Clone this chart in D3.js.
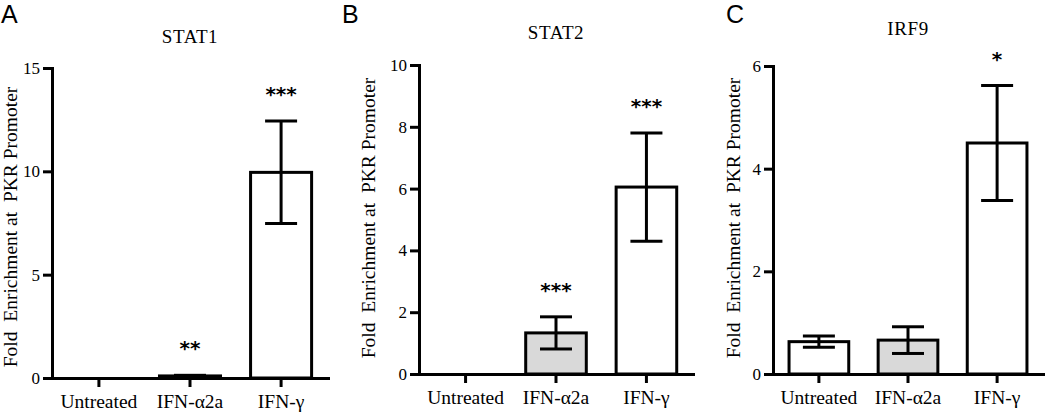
<!DOCTYPE html>
<html><head><meta charset="utf-8">
<script src="https://cdn.jsdelivr.net/npm/d3@7"></script>
<style>body{margin:0;background:#fff} svg{display:block}</style>
</head><body><svg id="c" width="1050" height="412"></svg>
<script>
// ---- data ----
const categories = ["Untreated", "IFN-\u03B12a", "IFN-\u03B3"];
const panelLetters = ["A", "B", "C"];
const panelTitles = ["STAT1", "STAT2", "IRF9"];
const stat1Mean = [0, 0.1, 9.95];
const stat1Err  = [0, 0.03, 2.48];
const stat1Sig  = ["", "**", "***"];
const stat2Mean = [0, 1.33, 6.05];
const stat2Err  = [0, 0.52, 1.75];
const stat2Sig  = ["", "***", "***"];
const irf9Mean  = [0.63, 0.66, 4.5];
const irf9Err   = [0.11, 0.26, 1.12];
const irf9Sig   = ["", "", "*"];
const stat1Ticks = [0, 5, 10, 15];
const stat2Ticks = [0, 2, 4, 6, 8, 10];
const irf9Ticks  = [0, 2, 4, 6];
const yLabel = "Fold  Enrichment at  PKR Promoter";

// ---- layout ----
const panels = [
  {mean: stat1Mean, err: stat1Err, sig: stat1Sig, ticks: stat1Ticks, max: 15,
   x0: 52, x1: 328, y0: 378, yT: 68, titleY: 43, letterX: 1, labX: 17, labY: 227},
  {mean: stat2Mean, err: stat2Err, sig: stat2Sig, ticks: stat2Ticks, max: 10,
   x0: 419, x1: 693, y0: 374, yT: 65, titleY: 39, letterX: 342, labX: 375, labY: 218},
  {mean: irf9Mean, err: irf9Err, sig: irf9Sig, ticks: irf9Ticks, max: 6,
   x0: 773, x1: 1043, y0: 374, yT: 66, titleY: 35, letterX: 726, labX: 740, labY: 218}
];
const fills = ["#ffffff", "#d9d9d9", "#ffffff"];
const serif = "'Liberation Serif','Times New Roman',serif";

const svg = d3.select("#c");
svg.append("rect").attr("width", 1050).attr("height", 412).attr("fill", "#fff");

panels.forEach((p, i) => {
  const g = svg.append("g");
  const x = d3.scaleBand().domain(categories).range([p.x0, p.x1])
    .paddingInner(0.33).paddingOuter(0.18);
  const y = d3.scaleLinear().domain([0, p.max]).range([p.y0, p.yT]);

  // bars
  g.selectAll("rect.bar").data(categories).join("rect")
    .attr("class", "bar")
    .attr("x", d => x(d)).attr("width", x.bandwidth())
    .attr("y", (d, j) => y(p.mean[j]))
    .attr("height", (d, j) => y(0) - y(p.mean[j]))
    .attr("fill", (d, j) => fills[j]).attr("stroke", "#000").attr("stroke-width", 3);

  // error bars
  const capW = 32;
  categories.forEach((c, j) => {
    if (p.err[j] <= 0) return;
    const cx = x(c) + x.bandwidth() / 2;
    const hi = y(p.mean[j] + p.err[j]), lo = y(p.mean[j] - p.err[j]);
    g.append("line").attr("x1", cx).attr("x2", cx).attr("y1", hi).attr("y2", lo)
      .attr("stroke", "#000").attr("stroke-width", 3);
    [hi, lo].forEach(yy => g.append("line").attr("x1", cx - capW / 2).attr("x2", cx + capW / 2)
      .attr("y1", yy).attr("y2", yy).attr("stroke", "#000").attr("stroke-width", 3));
    if (p.sig[j]) {
      g.append("text").attr("x", cx).attr("y", hi - 20)
        .attr("text-anchor", "middle")
        .style("font-family", "'DejaVu Sans',sans-serif").style("font-weight", "bold")
        .style("font-size", "20px").text(p.sig[j]);
    }
  });

  // axes
  const ya = g.append("g").attr("transform", `translate(${p.x0},0)`)
    .call(d3.axisLeft(y).tickValues(p.ticks).tickFormat(d3.format("d"))
      .tickSize(9).tickSizeOuter(0).tickPadding(3));
  const xa = g.append("g").attr("transform", `translate(0,${p.y0})`)
    .call(d3.axisBottom(x).tickSize(9).tickSizeOuter(0).tickPadding(7));
  [ya, xa].forEach(a => {
    a.select(".domain").attr("stroke", "#000").attr("stroke-width", 3).attr("stroke-linecap", "square");
    a.selectAll(".tick line").attr("stroke", "#000").attr("stroke-width", 3);
    a.selectAll("text").attr("fill", "#000").style("font-family", serif);
  });
  ya.selectAll("text").style("font-size", "17px");
  xa.selectAll("text").style("font-size", "19.5px");

  // title
  g.append("text").attr("x", x(categories[1]) + x.bandwidth() / 2).attr("y", p.titleY)
    .attr("text-anchor", "middle").style("font-family", serif).style("font-size", "19px")
    .style("letter-spacing", "0.6px").text(panelTitles[i]);
  // letter
  g.append("text").attr("x", p.letterX).attr("y", 23)
    .style("font-family", "'Liberation Sans',Arial,sans-serif").style("font-size", "25px")
    .text(panelLetters[i]);
  // y label
  g.append("text").attr("transform", `translate(${p.labX},${p.labY}) rotate(-90)`)
    .attr("text-anchor", "middle").attr("xml:space", "preserve").style("white-space", "pre")
    .style("font-family", serif).style("font-size", "19.5px").text(yLabel);
});
</script></body></html>
